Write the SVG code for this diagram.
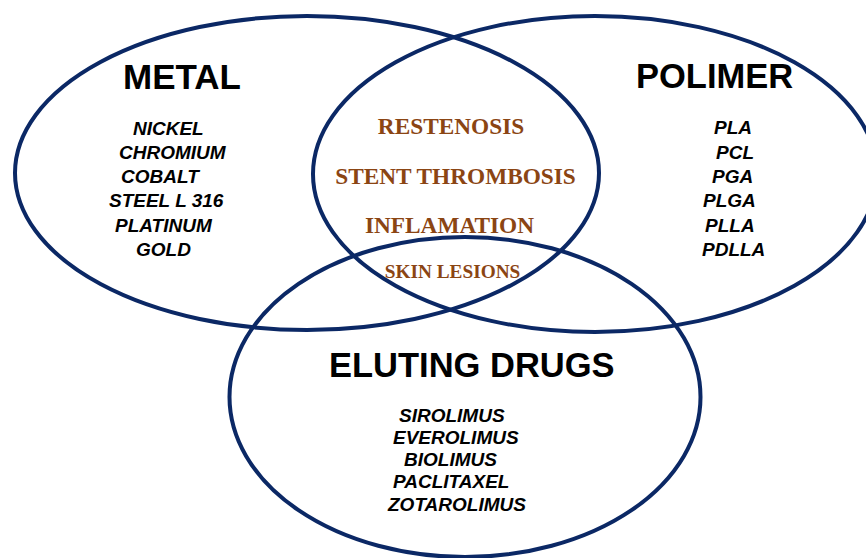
<svg xmlns="http://www.w3.org/2000/svg" width="866" height="558" viewBox="0 0 866 558">
<style>
.ring{fill:none;stroke:#0b2865;stroke-width:4}
.title{font-family:"Liberation Sans",Arial,sans-serif;font-weight:bold;font-size:34.5px;fill:#000}
.item{font-family:"Liberation Sans",Arial,sans-serif;font-weight:bold;font-style:italic;font-size:19px;fill:#000}
.risk{font-family:"Liberation Serif","Times New Roman",serif;font-weight:bold;font-size:23.3px;fill:#8B4513}
</style>
<rect width="866" height="558" fill="#fff"/>
<g id="metal">
<ellipse class="ring" cx="307" cy="173" rx="292" ry="157"/>
<text class="title" x="123" y="89" style="font-size:35px">METAL</text>
<text class="item" x="133" y="135">NICKEL</text>
<text class="item" x="119" y="159">CHROMIUM</text>
<text class="item" x="121" y="183">COBALT</text>
<text class="item" x="109" y="207">STEEL L 316</text>
<text class="item" x="115" y="232">PLATINUM</text>
<text class="item" x="136" y="256">GOLD</text>
</g>
<g id="polimer">
<ellipse class="ring" cx="595" cy="174" rx="282" ry="158"/>
<text class="title" x="636" y="88">POLIMER</text>
<text class="item" x="714" y="134">PLA</text>
<text class="item" x="716" y="159">PCL</text>
<text class="item" x="712" y="183">PGA</text>
<text class="item" x="703" y="207">PLGA</text>
<text class="item" x="705" y="232">PLLA</text>
<text class="item" x="702" y="256">PDLLA</text>
</g>
<g id="eluting-drugs">
<ellipse class="ring" cx="465" cy="397" rx="235.5" ry="160"/>
<text class="title" x="329" y="377">ELUTING DRUGS</text>
<text class="item" x="399" y="422">SIROLIMUS</text>
<text class="item" x="393" y="444">EVEROLIMUS</text>
<text class="item" x="404" y="466">BIOLIMUS</text>
<text class="item" x="393" y="488">PACLITAXEL</text>
<text class="item" x="388" y="511">ZOTAROLIMUS</text>
</g>
<g id="overlap">
<text class="risk" x="451" y="134" text-anchor="middle">RESTENOSIS</text>
<text class="risk" x="455.5" y="184" text-anchor="middle">STENT THROMBOSIS</text>
<text class="risk" x="449.5" y="233" text-anchor="middle">INFLAMATION</text>
<text class="risk" x="452.5" y="278" text-anchor="middle" style="font-size:19.3px">SKIN LESIONS</text>
</g>
<g id="connectors"></g>
</svg>
